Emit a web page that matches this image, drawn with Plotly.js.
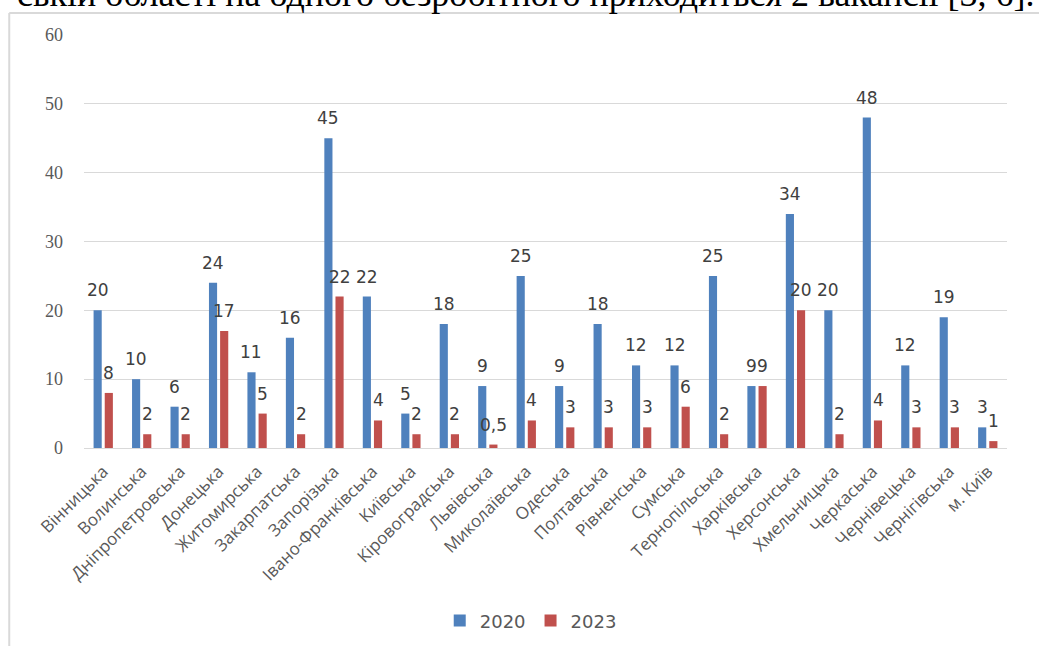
<!DOCTYPE html>
<html>
<head>
<meta charset="utf-8">
<script src="https://cdn.plot.ly/plotly-3.0.1.min.js"></script>
<style>
html,body{margin:0;padding:0;background:#fff;}
#chart{width:1039px;height:646px;}
</style>
</head>
<body>
<div id="chart"></div>
<script>
const categories = ["Вінницька","Волинська","Дніпропетровська","Донецька","Житомирська","Закарпатська","Запорізька","Івано-Франківська","Київська","Кіровоградська","Львівська","Миколаївська","Одеська","Полтавська","Рівненська","Сумська","Тернопільська","Харківська","Херсонська","Хмельницька","Черкаська","Чернівецька","Чернігівська","м. Київ"];
const values2020 = [20,10,6,24,11,16,45,22,5,18,9,25,9,18,12,12,25,9,34,20,48,12,19,3];
const values2023 = [8,2,2,17,5,2,22,4,2,2,0.5,4,3,3,3,6,2,9,20,2,4,3,3,1];
const seriesNames = ["2020","2023"];
const yTicks = [0,10,20,30,40,50,60];
const headerText = "ській області на одного безробітного приходиться 2 вакансії [3, 6].";

const fmt = v => String(v).replace('.', ',');
const labelFont = {family: "DejaVu Sans, sans-serif", size: 17, color: "#404040"};

const traces = [
  {type:"bar", name:seriesNames[0], x:categories, y:values2020, marker:{color:"#4F81BD"}, hoverinfo:"x+y"},
  {type:"bar", name:seriesNames[1], x:categories, y:values2023, marker:{color:"#C0504D"}, hoverinfo:"x+y"}
];

// data labels, placed above each bar via the axis scales
const offsets = [-5.6, 5.6];
const labelAnnotations = [];
[values2020, values2023].forEach((vals, s) => {
  vals.forEach((v, i) => {
    labelAnnotations.push({
      x: categories[i], y: v, xref: "x", yref: "y", text: fmt(v), showarrow: false,
      xshift: offsets[s], yshift: 20, yanchor: "middle", xanchor: "center", font: labelFont
    });
  });
});

const layout = {
  width:1039, height:646,
  margin:{l:84, r:32, t:35, b:198, autoexpand:false},
  paper_bgcolor:"#fff", plot_bgcolor:"#fff",
  barmode:"group", bargap:0.42, bargroupgap:0.27,
  showlegend:true,
  legend:{orientation:"h", x:0.484, xanchor:"center", yref:"container", y:0.039, yanchor:"middle",
    font:{family:"DejaVu Sans, sans-serif", size:18, color:"#595959"}, itemwidth:30, tracegroupgap:0},
  xaxis:{type:"category", tickangle:-45, tickfont:{family:"Open Sans, sans-serif", size:17, color:"#595959"},
    showgrid:false, showline:true, linecolor:"#d9d9d9", linewidth:1, ticks:"", ticklabelstandoff:6, fixedrange:true},
  yaxis:{range:[0,60], tickvals:yTicks, ticktext:yTicks.map(String),
    tickfont:{family:"Liberation Serif, serif", size:18, color:"#595959"},
    showgrid:true, gridcolor:"#d9d9d9", gridwidth:1, zeroline:false, showline:false, ticks:"",
    ticklabelstandoff:20, fixedrange:true},
  shapes:[
    {type:"line", xref:"paper", yref:"paper", x0:-0.081, x1:-0.081, y0:1.053, y1:-0.5, line:{color:"#d9d9d9", width:2}},
    {type:"line", xref:"paper", yref:"paper", x0:-0.081, x1:1.05, y0:1.053, y1:1.053, line:{color:"#d9d9d9", width:2}}
  ],
  annotations:[
    {text:headerText, xref:"paper", yref:"paper", x:1.032, xanchor:"right", y:1.0, yshift:19, yanchor:"bottom",
     showarrow:false, font:{family:"Liberation Serif, serif", size:36, color:"#000"}}
  ].concat(labelAnnotations)
};

Plotly.newPlot("chart", traces, layout, {displayModeBar:false, staticPlot:true});
</script>
</body>
</html>
